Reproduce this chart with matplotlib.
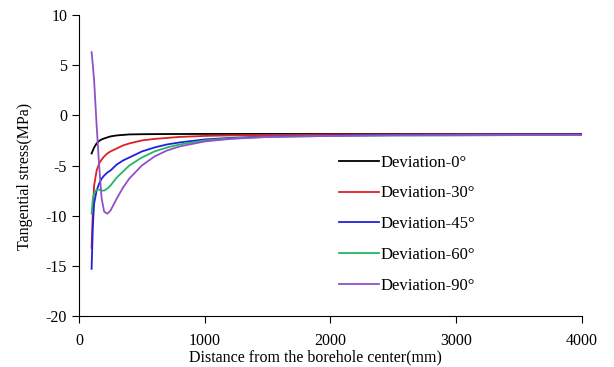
import matplotlib.pyplot as plt

plt.rcParams['font.family'] = ['Liberation Serif', 'DejaVu Serif']
plt.rcParams['axes.unicode_minus'] = False

# distance from borehole center (mm)
r = [100, 110, 120, 140, 160, 180, 200, 225, 250, 300, 350, 400, 500,
     600, 700, 800, 1000, 1200, 1500, 2000, 2500, 3000, 3500, 4000]

# tangential stress (MPa) for each deviation angle
dev_0 = [-3.8, -3.5, -3.2, -2.8, -2.55, -2.4, -2.3, -2.2, -2.1, -2.0, -1.95, -1.9, -1.88,
         -1.87, -1.86, -1.86, -1.85, -1.85, -1.85, -1.85, -1.85, -1.85, -1.85, -1.85]
dev_30 = [-13.2, -9.5, -7.0, -5.5, -4.8, -4.4, -4.1, -3.8, -3.6, -3.3, -3.0, -2.8, -2.5,
          -2.35, -2.25, -2.15, -2.05, -2.0, -1.95, -1.9, -1.9, -1.88, -1.87, -1.87]
dev_45 = [-15.3, -11.0, -8.8, -7.5, -6.8, -6.3, -6.0, -5.7, -5.5, -4.9, -4.5, -4.2, -3.6,
          -3.2, -2.9, -2.7, -2.4, -2.25, -2.1, -2.0, -1.95, -1.92, -1.9, -1.9]
dev_60 = [-9.8, -8.3, -7.8, -7.4, -7.4, -7.5, -7.5, -7.3, -7.0, -6.2, -5.6, -5.0, -4.2,
          -3.6, -3.2, -2.9, -2.5, -2.3, -2.15, -2.05, -2.0, -1.97, -1.95, -1.95]
dev_90 = [6.3, 5.0, 3.5, -1.0, -5.0, -8.3, -9.6, -9.8, -9.5, -8.3, -7.2, -6.3, -5.0,
          -4.1, -3.5, -3.1, -2.6, -2.35, -2.15, -2.05, -2.0, -2.0, -1.97, -1.95]

series = [dev_0, dev_30, dev_45, dev_60, dev_90]
labels = ['Deviation-0°', 'Deviation-30°', 'Deviation-45°', 'Deviation-60°', 'Deviation-90°']
colors = ['black', '#e02020', '#2020e0', '#20b860', '#9050c8']

fig = plt.figure(figsize=(6.14, 3.67), dpi=100)
ax = fig.add_axes([0.1287, 0.139, 0.819, 0.820])

for y, lab, c in zip(series, labels, colors):
    ax.plot(r, y, color=c, linewidth=1.3, label=lab)

ax.set_xlim(0, 4000)
ax.set_ylim(-20, 10)
ax.set_xticks([0, 1000, 2000, 3000, 4000])
ax.set_yticks(range(-20, 11, 5))
for s in ['top', 'right']:
    ax.spines[s].set_visible(False)
ax.tick_params(labelsize=11.5, direction='out', length=5)
ax.tick_params(axis='x', pad=7)

ax.set_xlabel('Distance from the borehole center(mm)', fontsize=11.5)
ax.set_ylabel('Tangential stress(MPa)', fontsize=11.5)
ax.xaxis.set_label_coords(0.47, -0.11)
ax.yaxis.set_label_coords(-0.092, 0.465)

ax.legend(loc='upper left', bbox_to_anchor=(0.487, 0.586), frameon=False, fontsize=12,
          handlelength=2.4, handletextpad=0.1, labelspacing=0.89)

fig.savefig('out.png', dpi=100)
